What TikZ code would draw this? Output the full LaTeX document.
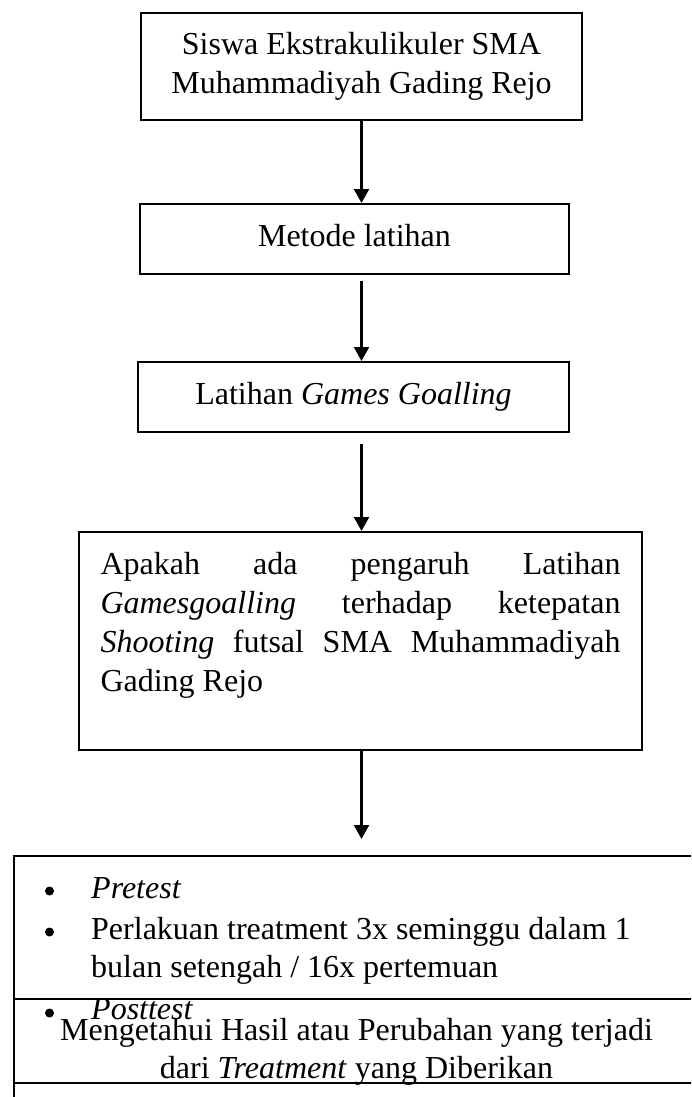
\documentclass[tikz,border=0pt]{standalone}
\usepackage{fontspec}
\setmainfont{Liberation Serif}
\usepackage{tikz}
\usetikzlibrary{arrows.meta}
\setlength{\parindent}{0pt}

\begin{document}
\begin{tikzpicture}[x=1pt, y=-1pt,
	box/.style={draw, line width=2pt, inner sep=0pt, font=\fontsize{32}{39}\selectfont},
	flow/.style={-{Triangle[width=15pt,length=14pt]}, line width=2.2pt},
	txt/.style={inner sep=0pt, font=\fontsize{32}{38}\selectfont},
	dot/.style={circle, fill, inner sep=0pt, minimum size=9pt}]
	\useasboundingbox (0,0) rectangle (691,1097);
	\clip (0,0) rectangle (691,1097);

	\node[box, minimum width=441pt, minimum height=107pt, align=center] (1) at (361.5,66.5) {Siswa Ekstrakulikuler SMA\\Muhammadiyah Gading Rejo};
	\node[box, minimum width=429pt, minimum height=70pt, text depth=7pt] (2) at (354.5,239) {Metode latihan};
	\node[box, minimum width=431pt, minimum height=70pt] (3) at (353.5,397) {Latihan \textit{Games Goalling}};
	\node[box, minimum width=563pt, minimum height=218pt, text width=520pt, align=justify] (4) at (360.5,641) {Apakah ada pengaruh Latihan\linebreak \textit{Gamesgoalling} terhadap ketepatan\linebreak \textit{Shooting} futsal SMA Muhammadiyah\linebreak Gading Rejo\par\mbox{}};
	\node[box, minimum width=717pt, minimum height=265pt, anchor=north west] (5) at (13,855) {};
	\node[box, minimum width=717pt, minimum height=84pt, anchor=north west] (6) at (13,998) {};

	\draw[flow] (1.south) -- (1.south |- 2.north);
	\draw[flow, shorten <=6pt] (1.south |- 2.south) -- (1.south |- 3.north);
	\draw[flow, shorten <=11pt] (1.south |- 3.south) -- (1.south |- 4.north);
	\draw[flow, shorten >=16pt] (1.south |- 4.south) -- (1.south |- 5.north);

	\node[dot] (51) at (49.5,891) {};
	\node[txt, anchor=base west] (52) at (91,898) {\textit{Pretest}};
	\node[dot] (53) at (49.5,932) {};
	\node[txt, anchor=base west] (54) at (91,939) {Perlakuan treatment 3x seminggu dalam 1};
	\node[txt, anchor=base west] (55) at (91,977) {bulan setengah / 16x pertemuan};
	\node[dot] (56) at (49.5,1013) {};
	\node[txt, anchor=base west] (57) at (91,1019) {\textit{Posttest}};

	\node[txt, anchor=base] (61) at (356.5,1040) {Mengetahui Hasil atau Perubahan yang terjadi};
	\node[txt, anchor=base] (62) at (356.5,1078) {dari \textit{Treatment} yang Diberikan};
\end{tikzpicture}
\end{document}
